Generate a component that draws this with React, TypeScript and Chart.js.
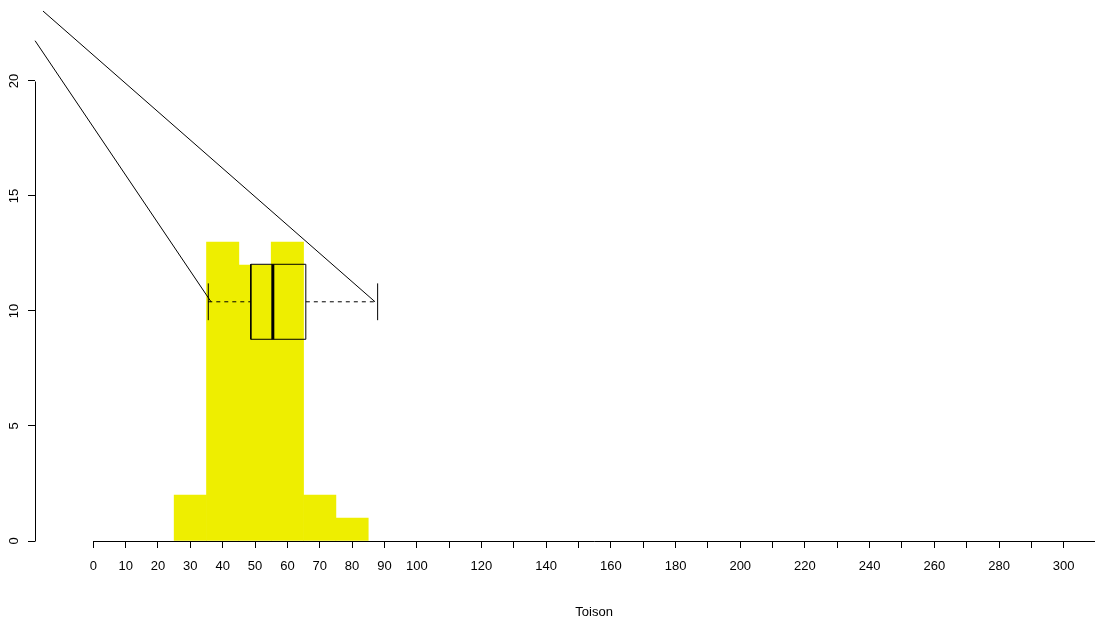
import React, { useEffect, useRef } from "react";
import { Chart, registerables } from "chart.js";

Chart.register(...registerables);

// Histogram of "Toison"
const binCenters = [30, 40, 50, 60, 70, 80];
const binCounts = [2, 13, 12, 13, 2, 1];

// Axis ticks
const xTickValues = [0, 10, 20, 30, 40, 50, 60, 70, 80, 90, 100, 110, 120, 130, 140, 150, 160, 170, 180, 190, 200, 210, 220, 230, 240, 250, 260, 270, 280, 290, 300];
const xLabelledTicks = [0, 10, 20, 30, 40, 50, 60, 70, 80, 90, 100, 120, 140, 160, 180, 200, 220, 240, 260, 280, 300];
const yTickValues = [0, 5, 10, 15, 20];

// Boxplot (horizontal) statistics
const boxFive = [35.55, 48.7, 55.5, 65.7, 87.9]; // lower whisker, Q1, median, Q3, upper whisker
const boxLevel = [8.77, 10.4, 12.03]; // box bottom, centre, box top
const capRange = [9.6, 11.2];

// Two diagonal lines converging on the whisker ends
const lineA = [{ x: -18.0, y: 21.75 }, { x: 36.4, y: 10.4 }];
const lineB = [{ x: -15.55, y: 23.04 }, { x: 87.1, y: 10.4 }];

const xTitle = "Toison";

export default function App() {
  const ref = useRef<HTMLCanvasElement | null>(null);

  useEffect(() => {
    const canvas = ref.current;
    if (!canvas) return;
    Chart.defaults.font.family = "'Liberation Sans', Arial, sans-serif";
    Chart.defaults.font.size = 13;
    Chart.defaults.color = "#000";

    const [lw, q1, med, q3, uw] = boxFive;
    const [bLow, bMid, bHigh] = boxLevel;

    const lineDs = (data: any[], extra: any = {}) => ({
      type: "line" as const,
      data,
      borderColor: "#000",
      borderWidth: 1,
      pointRadius: 0,
      tension: 0,
      fill: false,
      clip: false as any,
      order: 0,
      ...extra,
    });

    const axisPlugin = {
      id: "rAxes",
      afterDraw(chart: any) {
        const { ctx, chartArea } = chart;
        const xs = chart.scales.x;
        const ys = chart.scales.y;
        ctx.save();
        ctx.strokeStyle = "#000";
        ctx.lineWidth = 1;
        const yb = Math.round(ys.getPixelForValue(0)) + 0.5;
        ctx.beginPath();
        ctx.moveTo(Math.round(xs.getPixelForValue(0)) + 0.5, yb);
        ctx.lineTo(Math.round(xs.getPixelForValue(310)) + 0.5, yb);
        ctx.stroke();
        const xl = Math.round(chartArea.left) + 0.5;
        ctx.beginPath();
        ctx.moveTo(xl, Math.round(ys.getPixelForValue(0)) + 0.5);
        ctx.lineTo(xl, Math.round(ys.getPixelForValue(20)) + 0.5);
        ctx.stroke();
        ctx.fillStyle = "#000";
        ctx.font = "13px 'Liberation Sans', Arial, sans-serif";
        ctx.textAlign = "center";
        ctx.textBaseline = "middle";
        const cx = (xs.getPixelForValue(0) + chartArea.right) / 2;
        ctx.fillText(xTitle, cx, 612);
        ctx.restore();
      },
    };

    const chart = new Chart(canvas, {
      type: "bar",
      data: {
        datasets: [
          {
            type: "bar",
            data: binCenters.map((x, i) => ({ x, y: binCounts[i] })),
            backgroundColor: "#EEEE00",
            borderColor: "#EEEE00",
            borderWidth: 0,
            barPercentage: 1,
            categoryPercentage: 1,
            order: 10,
          } as any,
          lineDs(lineA),
          lineDs(lineB),
          // box
          lineDs([
            { x: q1, y: bLow },
            { x: q3, y: bLow },
            { x: q3, y: bHigh },
            { x: q1, y: bHigh },
            { x: q1, y: bLow },
          ]),
          // median
          lineDs([{ x: med, y: bLow }, { x: med, y: bHigh }], { borderWidth: 3, borderCapStyle: "butt" }),
          // whiskers
          lineDs([{ x: lw, y: bMid }, { x: q1, y: bMid }], { borderDash: [4, 4] }),
          lineDs([{ x: q3, y: bMid }, { x: uw, y: bMid }], { borderDash: [4, 4] }),
          // caps
          lineDs([{ x: lw, y: capRange[0] }, { x: lw, y: capRange[1] }]),
          lineDs([{ x: uw, y: capRange[0] }, { x: uw, y: capRange[1] }]),
        ],
      },
      options: {
        responsive: false,
        animation: false,
        layout: { padding: 0 },
        plugins: {
          legend: { display: false },
          tooltip: { enabled: false },
          title: { display: false },
        },
        scales: {
          x: {
            type: "linear",
            min: -18.02,
            max: 309.67,
            offset: false,
            afterBuildTicks: (scale: any) => {
              scale.ticks = xTickValues.map((v) => ({ value: v }));
            },
            afterFit: (scale: any) => {
              scale.height = 83;
              scale.paddingLeft = 0;
              scale.paddingRight = 0;
            },
            ticks: {
              autoSkip: false,
              maxRotation: 0,
              minRotation: 0,
              padding: 11,
              color: "#000",
              font: { size: 13 },
              callback: (v: any) => (xLabelledTicks.includes(Number(v)) ? String(v) : ""),
            },
            grid: {
              offset: false,
              drawOnChartArea: false,
              drawTicks: true,
              tickLength: 7,
              color: "#000",
            },
            border: { display: false },
          },
          y: {
            type: "linear",
            min: 0,
            max: 23.52,
            afterBuildTicks: (scale: any) => {
              scale.ticks = yTickValues.map((v) => ({ value: v }));
            },
            afterFit: (scale: any) => {
              scale.width = 35;
              scale.paddingTop = 0;
              scale.paddingBottom = 0;
            },
            ticks: {
              autoSkip: false,
              minRotation: 90,
              maxRotation: 90,
              crossAlign: "center",
              padding: 6,
              color: "#000",
              font: { size: 13 },
              callback: (v: any) => String(v),
            },
            grid: {
              offset: false,
              drawOnChartArea: false,
              drawTicks: true,
              tickLength: 7,
              color: "#000",
            },
            border: { display: false },
          },
        },
      },
      plugins: [axisPlugin],
    });

    return () => chart.destroy();
  }, []);

  return (
    <div style={{ position: "absolute", left: 0, top: 0, width: 1095, height: 624, background: "#fff" }}>
      <canvas ref={ref} width={1095} height={624} style={{ display: "block" }} />
    </div>
  );
}
